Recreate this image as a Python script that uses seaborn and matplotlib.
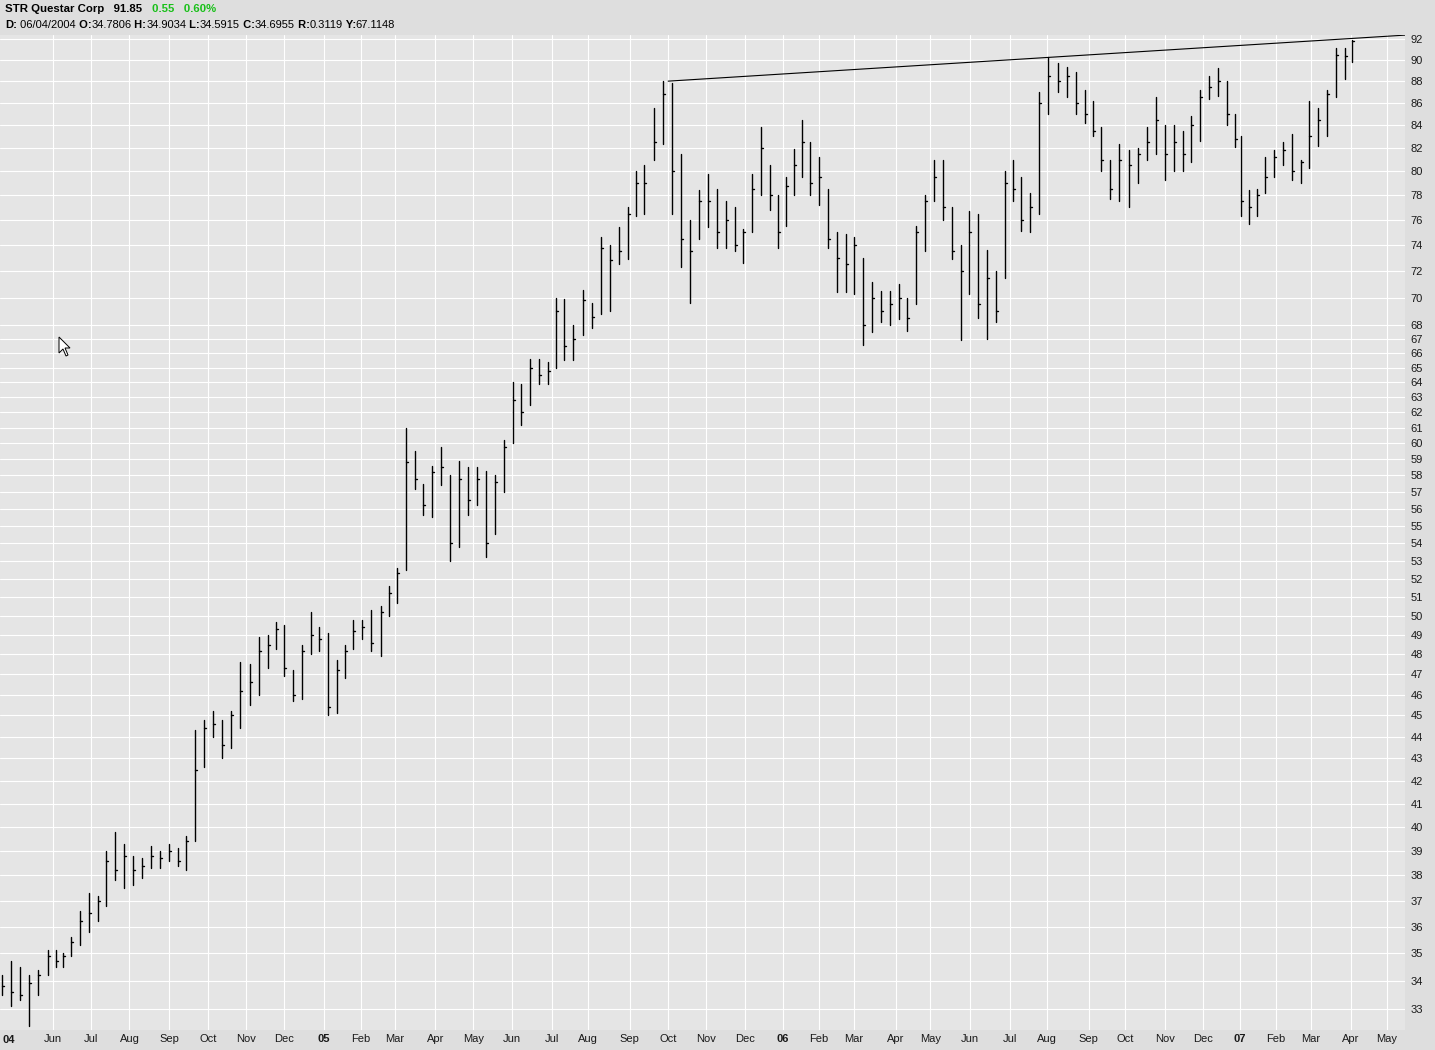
from matplotlib import pyplot as plt
from matplotlib.patches import Polygon
from matplotlib.ticker import NullLocator
import pandas as pd
import numpy as np
import seaborn as sns

# Weekly bars (week starting Monday)
first_week = "2004-04-19"
week_high = [
    34.2, 34.7, 34.5, 34.2, 34.4, 35.1, 35.1, 35.0, 35.6, 36.6,
    37.3, 37.2, 39.0, 39.8, 39.3, 38.8, 38.7, 39.2, 39.0, 39.3,
    39.1, 39.6, 44.3, 44.8, 45.2, 44.8, 45.2, 47.6, 47.5, 48.9,
    49.0, 49.7, 49.5, 47.2, 48.5, 50.2, 49.4, 49.1, 47.7, 48.5,
    49.8, 49.8, 50.3, 50.5, 51.6, 52.6, 61.0, 59.5, 57.5, 58.6,
    59.8, 58.0, 58.9, 58.5, 58.5, 58.3, 58.0, 60.2, 64.0, 63.9,
    65.6, 65.6, 65.4, 70.0, 69.9, 68.0, 70.6, 69.6, 74.6, 74.0,
    75.4, 77.0, 80.0, 80.5, 85.5, 88.0, 87.8, 81.5, 76.0, 78.4,
    79.8, 78.5, 77.5, 77.0, 75.3, 79.8, 83.8, 80.5, 78.0, 79.5,
    81.9, 84.5, 82.5, 81.2, 78.5, 75.0, 74.9, 74.6, 73.0, 71.2,
    70.5, 70.5, 71.0, 70.0, 75.5, 78.0, 81.0, 81.0, 77.0, 74.0,
    76.7, 76.5, 73.6, 72.0, 80.0, 81.0, 79.5, 78.2, 87.0, 90.3,
    89.7, 89.3, 88.9, 87.2, 86.2, 83.8, 81.0, 82.3, 81.8, 82.0,
    83.8, 86.5, 84.0, 84.0, 83.5, 84.8, 87.2, 88.5, 89.2, 88.0,
    85.0, 83.0, 78.4, 78.5, 81.2, 81.8, 82.5, 83.2, 81.0, 86.2,
    85.5, 87.2, 91.1, 91.1, 91.9,
]
week_low = [
    33.5, 33.1, 33.3, 32.4, 33.5, 34.2, 34.5, 34.5, 34.9, 35.3,
    35.8, 36.2, 36.8, 37.8, 37.5, 37.6, 37.9, 38.3, 38.3, 38.6,
    38.4, 38.2, 39.4, 42.6, 44.0, 43.0, 43.5, 44.4, 45.5, 46.0,
    47.3, 48.3, 46.9, 45.7, 45.8, 48.0, 48.2, 45.0, 45.1, 46.8,
    48.3, 48.8, 48.2, 47.9, 50.0, 50.7, 52.5, 57.2, 55.6, 55.5,
    57.4, 53.0, 53.8, 55.6, 56.2, 53.2, 54.5, 57.0, 60.0, 61.2,
    62.5, 63.9, 63.9, 65.0, 65.5, 65.5, 67.3, 67.8, 68.8, 69.0,
    72.5, 72.9, 76.3, 76.5, 81.0, 82.3, 76.5, 72.3, 69.6, 74.5,
    75.4, 73.8, 73.8, 73.5, 72.6, 75.0, 78.0, 76.8, 73.8, 75.5,
    78.0, 79.5, 78.0, 77.2, 73.8, 70.4, 70.4, 70.3, 66.6, 67.5,
    68.2, 68.0, 68.4, 67.6, 69.5, 73.5, 77.5, 76.0, 72.9, 66.9,
    70.3, 68.5, 67.0, 68.2, 71.5, 77.5, 75.1, 75.0, 76.5, 85.0,
    87.0, 86.5, 85.0, 84.2, 83.0, 80.0, 77.7, 77.5, 77.0, 79.0,
    81.0, 81.5, 79.3, 80.0, 80.0, 80.8, 82.6, 86.4, 86.6, 84.0,
    82.1, 76.3, 75.7, 76.3, 78.2, 79.5, 80.5, 79.3, 79.0, 80.3,
    82.2, 83.0, 86.5, 88.2, 89.8,
]
week_close = [
    33.8, 33.6, 33.5, 33.9, 34.2, 34.9, 34.7, 34.9, 35.4, 36.2,
    36.5, 37.0, 38.6, 38.2, 38.8, 38.2, 38.4, 38.8, 38.7, 39.0,
    38.6, 39.4, 42.5, 44.4, 44.6, 43.6, 45.0, 46.2, 46.6, 48.2,
    48.5, 49.3, 47.3, 46.0, 48.2, 49.0, 48.8, 45.4, 47.2, 48.2,
    49.2, 49.4, 48.6, 50.2, 51.2, 52.3, 58.8, 57.8, 56.2, 58.2,
    58.5, 54.0, 57.8, 56.5, 57.8, 54.0, 57.6, 59.8, 62.8, 62.0,
    65.0, 64.5, 64.8, 69.0, 66.5, 67.0, 69.8, 68.6, 73.8, 72.8,
    73.5, 76.5, 79.0, 79.0, 82.5, 86.8, 80.0, 74.5, 73.5, 77.5,
    77.5, 75.0, 76.0, 74.0, 75.0, 78.5, 82.0, 78.0, 75.0, 78.8,
    80.5, 82.5, 79.0, 79.5, 74.5, 73.0, 72.5, 74.0, 68.0, 70.0,
    69.0, 69.5, 70.0, 68.5, 75.0, 77.5, 79.5, 77.0, 73.5, 72.0,
    75.0, 69.5, 71.5, 69.0, 79.0, 78.5, 76.0, 77.0, 86.0, 88.5,
    88.0, 88.5, 86.0, 85.0, 83.5, 81.0, 78.5, 81.0, 80.5, 81.5,
    82.5, 84.5, 81.5, 82.5, 81.5, 84.0, 86.5, 87.5, 88.0, 85.0,
    82.8, 77.5, 77.0, 78.0, 79.5, 81.2, 81.8, 80.0, 80.8, 83.0,
    84.5, 86.8, 90.5, 90.4, 91.85,
]

# Trendline over the highs
trend_dates = ["2005-10-03", "2007-05-16"]
trend_prices = [88.0, 92.4]

# Exchange holidays (x axis counts trading days)
holidays = [
    "2004-05-31", "2004-06-11", "2004-07-05", "2004-09-06", "2004-11-25", "2004-12-24",
    "2005-01-17", "2005-02-21", "2005-03-25", "2005-05-30", "2005-07-04", "2005-09-05",
    "2005-11-24", "2005-12-26", "2006-01-02", "2006-01-16", "2006-02-20", "2006-04-14",
    "2006-05-29", "2006-07-04", "2006-09-04", "2006-11-23", "2006-12-25", "2007-01-01",
    "2007-01-02", "2007-01-15", "2007-02-19", "2007-04-06",
]

y_ticks = list(range(33, 68)) + list(range(68, 93, 2))

title_runs = [("STR Questar Corp   91.85   ", "bold", "black"), ("0.55   0.60%", "bold", "#19c019")]
info_runs = [
    ("D:", "bold"), (" 06/04/2004", "normal"), (" O:", "bold"), ("34.7806", "normal"),
    (" H:", "bold"), ("34.9034", "normal"), (" L:", "bold"), ("34.5915", "normal"),
    (" C:", "bold"), ("34.6955", "normal"), (" R:", "bold"), ("0.3119", "normal"),
    (" Y:", "bold"), ("67.1148", "normal"),
]

W, H = 1435, 1050
FONT = ["Liberation Sans", "DejaVu Sans"]


def put_runs(fig, x_px, y_px, runs, size=8):
    r = fig.canvas.get_renderer()
    x = x_px
    for run in runs:
        s, weight = run[0], run[1]
        color = run[2] if len(run) > 2 else "black"
        t = fig.text(x / W, 1 - y_px / H, s, fontsize=size, fontweight=weight, color=color,
                     family=FONT, ha="left", va="center")
        x += t.get_window_extent(renderer=r).width


def main():
    sns.set_theme(style="darkgrid", rc={
        "axes.facecolor": "#e5e5e5",
        "figure.facecolor": "#dedede",
        "grid.color": "white",
        "grid.linewidth": 0.8,
    })
    plt.rcParams["font.family"] = FONT

    days = pd.bdate_range("2004-04-19", "2007-05-31", freq="C", holidays=holidays)

    def idx(d):
        return days.searchsorted(pd.Timestamp(d))

    # weekly bar positions in trading-day units
    weeks = pd.date_range(first_week, periods=len(week_close), freq="W-MON")
    rows = []
    for k, w in enumerate(weeks):
        lo = idx(w)
        hi = idx(w + pd.Timedelta(days=5))
        if k == len(weeks) - 1:
            hi = idx("2007-04-04")
        xc = (lo + hi - 1) / 2
        rows.append((xc, week_low[k], f"r{k}"))
        rows.append((xc, week_high[k], f"r{k}"))
        rows.append((xc, week_close[k], f"c{k}"))
        rows.append((xc + 1.1, week_close[k], f"c{k}"))
    seg = pd.DataFrame(rows, columns=["x", "price", "seg"])

    fig = plt.figure(figsize=(W / 100, H / 100), dpi=100)
    ax = fig.add_axes([0, 20 / H, 1405 / W, (1030 - 35) / H])
    ax.set_yscale("log")

    sns.lineplot(data=seg, x="x", y="price", units="seg", estimator=None, sort=False,
                 color="black", linewidth=1.0, legend=False, ax=ax)

    trend = pd.DataFrame({"x": [idx(d) for d in trend_dates], "price": trend_prices})
    sns.lineplot(data=trend, x="x", y="price", color="black", linewidth=0.8, ax=ax)

    # axis scaling: Jun 1 2004 -> px 53, May 1 2007 -> px 1387
    i0, i1 = idx("2004-06-01"), idx("2007-05-01")
    ppd = (1387 - 53) / (i1 - i0)
    ax.set_xlim(i0 - 53 / ppd, i0 + (1405 - 53) / ppd)
    ax.set_ylim(32.27, 92.4)

    months = pd.date_range("2004-06-01", "2007-05-01", freq="MS")
    ax.set_xticks([idx(m) for m in months],
                  labels=[m.strftime("%y") if m.month == 1 else m.strftime("%b") for m in months])
    for lab, m in zip(ax.get_xticklabels(), months):
        if m.month == 1:
            lab.set_fontweight("bold")
    ax.set_yticks(y_ticks, labels=[str(v) for v in y_ticks])
    ax.yaxis.set_minor_locator(NullLocator())
    ax.yaxis.tick_right()
    ax.tick_params(axis="both", which="both", length=0, labelsize=8, labelcolor="#1a1a1a")
    ax.tick_params(axis="x", pad=3)
    ax.tick_params(axis="y", pad=4)
    ax.set_xlabel("")
    ax.set_ylabel("")
    for s in ax.spines.values():
        s.set_visible(False)
    ax.text(0.002, -0.0105, "04", transform=ax.transAxes, fontsize=8, fontweight="bold",
            ha="left", va="center", color="#1a1a1a")

    # mouse pointer left in the screenshot
    tip_x, tip_y = 59, 337
    shape = [(0, 0), (0, 16), (4, 12), (7, 19), (9, 18), (6, 11), (11, 11)]
    fig.patches.append(Polygon([((tip_x + px) / W, 1 - (tip_y + py) / H) for px, py in shape],
                               closed=True, facecolor="white", edgecolor="black", linewidth=0.7,
                               transform=fig.transFigure, zorder=10))

    put_runs(fig, 5, 9, title_runs, size=8.2)
    put_runs(fig, 5, 25, info_runs, size=8)

    plt.savefig("out.png", dpi=100)


if __name__ == "__main__":
    main()
